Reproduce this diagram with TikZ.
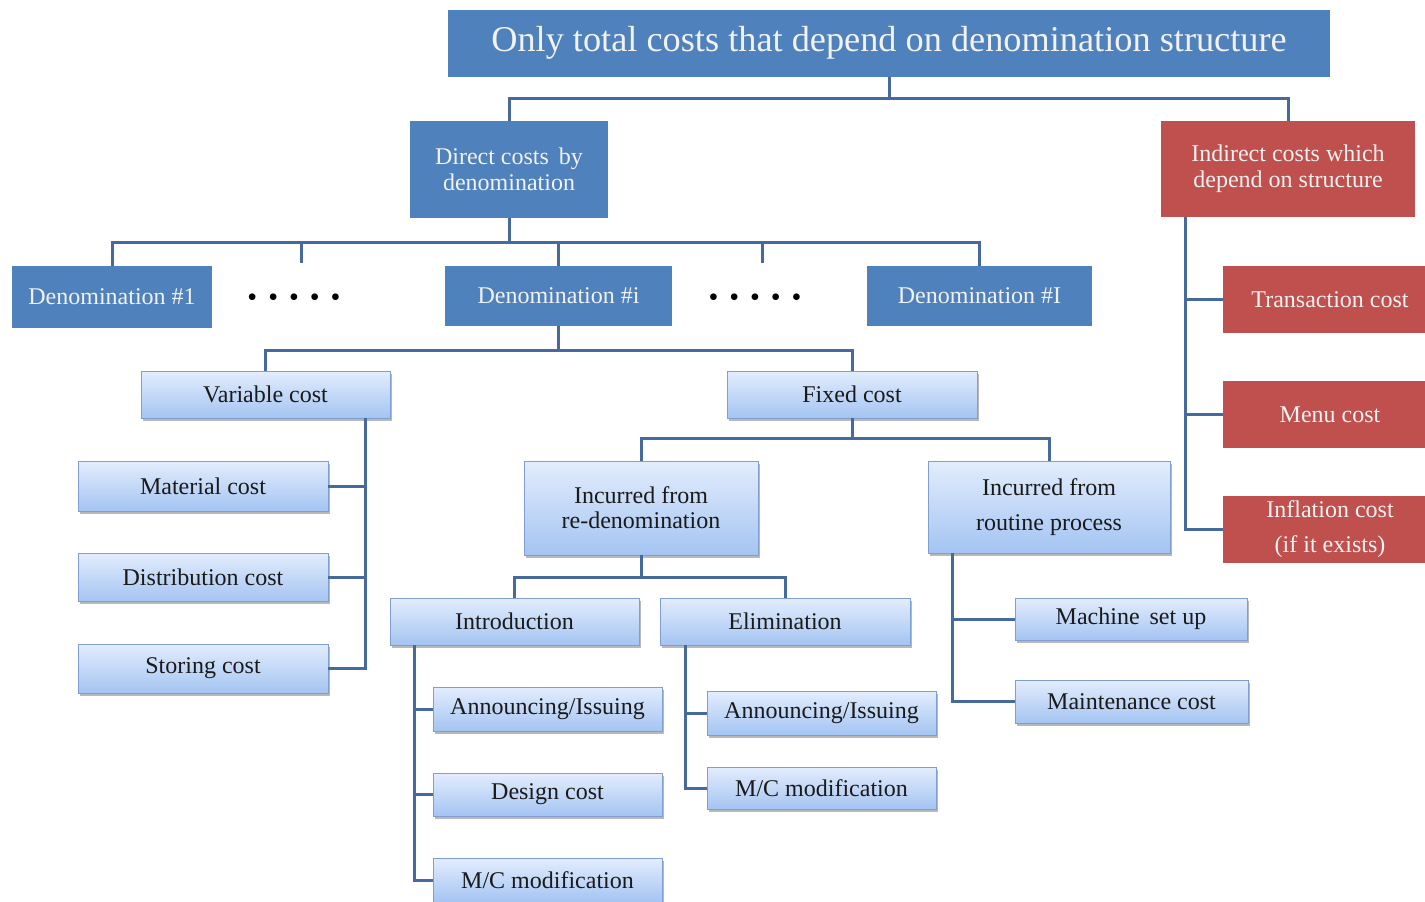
\documentclass[tikz,border=0pt]{standalone}
\usepackage{fontspec}
\setmainfont{Liberation Serif}
\usetikzlibrary{shadows}
\definecolor{bluefill}{HTML}{4F81BD}
\definecolor{redfill}{HTML}{C0504D}
\definecolor{lighttop}{HTML}{E3EDFD}
\definecolor{lightbot}{HTML}{A4C4F2}
\definecolor{lightedge}{HTML}{7F9FD0}
\definecolor{linecol}{HTML}{46699E}
\definecolor{darktext}{HTML}{1A1A1A}
\begin{document}
\begin{tikzpicture}[x=1pt,y=-1pt,
  boxbase/.style={inner sep=0pt, align=center},
  bluebox/.style={boxbase, fill=bluefill, text=white!95!black, font=\fontsize{24}{26}\selectfont},
  redbox/.style={boxbase, fill=redfill, text=white!95!black, font=\fontsize{24}{26}\selectfont},
  lightbox/.style={boxbase, draw=lightedge, line width=0.8pt, top color=lighttop, bottom color=lightbot,
     text=darktext, font=\fontsize{24}{25}\selectfont,
     drop shadow={shadow xshift=2pt, shadow yshift=-3pt, fill=black, opacity=0.28}},
  dotrow/.style={inner sep=0pt, font=\fontsize{28}{30}\selectfont},
  conn/.style={draw=linecol, line width=3pt}
]
\useasboundingbox (0,0) rectangle (1425,902);
\fill[white] (0,0) rectangle (1425,902);

% top level
\node[bluebox, minimum width=882, minimum height=67, font=\fontsize{36.3}{40}\selectfont] (title) at (889,43) {Only total costs that depend on denomination structure};
\node[bluebox, minimum width=198, minimum height=97] (direct) at (509,169.5) {Direct costs\, by\\denomination};
\node[redbox, minimum width=254, minimum height=96] (indirect) at (1288,169) {Indirect costs which\\depend on structure};

% denominations
\node[bluebox, minimum width=200, minimum height=62] (d1) at (112,297) {Denomination \#1};
\node[bluebox, minimum width=227, minimum height=60] (di) at (558.5,296) {Denomination \#i};
\node[bluebox, minimum width=225, minimum height=60] (dI) at (979.5,296) {Denomination \#I};
\node[dotrow] (dots1) at (294,300) {\spaceskip=11pt • • • • •};
\node[dotrow] (dots2) at (755,300) {\spaceskip=11pt • • • • •};

% indirect children
\node[redbox, minimum width=214, minimum height=67] (trans) at (1330,299.5) {Transaction cost};
\node[redbox, minimum width=214, minimum height=67] (menu) at (1330,414.5) {Menu cost};
\node[redbox, minimum width=214, minimum height=67, font=\fontsize{24}{35}\selectfont] (infl) at (1330,529.5) {Inflation cost\\(if it exists)};

% variable / fixed
\node[lightbox, minimum width=249, minimum height=47] (var) at (265.5,394.5) {Variable cost};
\node[lightbox, minimum width=250, minimum height=47] (fix) at (852,394.5) {Fixed cost};
\node[lightbox, minimum width=250, minimum height=50] (mat) at (203,486) {Material cost};
\node[lightbox, minimum width=250, minimum height=48] (dist) at (203,577) {Distribution cost};
\node[lightbox, minimum width=250, minimum height=49] (stor) at (203,668.5) {Storing cost};

% fixed children
\node[lightbox, minimum width=234, minimum height=94] (incre) at (641,508) {Incurred from\\re-denomination};
\node[lightbox, minimum width=242, minimum height=92, font=\fontsize{24}{35}\selectfont] (incro) at (1049,507) {Incurred from\\routine process};
\node[lightbox, minimum width=249, minimum height=47] (intro) at (514.5,621.5) {Introduction};
\node[lightbox, minimum width=250, minimum height=47] (elim) at (785,621.5) {Elimination};
\node[lightbox, minimum width=229, minimum height=44] (ann1) at (547.5,709) {Announcing/Issuing};
\node[lightbox, minimum width=229, minimum height=43] (design) at (547.5,794.5) {Design cost};
\node[lightbox, minimum width=229, minimum height=44] (mc1) at (547.5,880) {M/C modification};
\node[lightbox, minimum width=229, minimum height=44] (ann2) at (821.5,713) {Announcing/Issuing};
\node[lightbox, minimum width=229, minimum height=42] (mc2) at (821.5,788) {M/C modification};
\node[lightbox, minimum width=232, minimum height=42] (mach) at (1131,619) {Machine\, set up};
\node[lightbox, minimum width=233, minimum height=43] (maint) at (1131.5,701.5) {Maintenance cost};

% connectors
\coordinate (s1) at (301,263);
\coordinate (s2) at (762,263);
\draw[conn] (title.south) -- ++(0,22) -| (direct.north);
\draw[conn] (title.south) -- ++(0,22) -| (indirect.north);
\draw[conn] (direct.south) -- ++(0,24) -| (d1.north);
\draw[conn] (direct.south) -- ++(0,24) -| (s1);
\draw[conn] (direct.south) -- ++(0,24) -| (di.north);
\draw[conn] (direct.south) -- ++(0,24) -| (s2);
\draw[conn] (direct.south) -- ++(0,24) -| (dI.north);
\draw[conn] (di.south) -- ++(0,24) -| (var.north);
\draw[conn] (di.south) -- ++(0,24) -| (fix.north);
\draw[conn] ([xshift=99.5]var.south) |- (mat.east);
\draw[conn] ([xshift=99.5]var.south) |- (dist.east);
\draw[conn] ([xshift=99.5]var.south) |- (stor.east);
\draw[conn] (fix.south) -- ++(0,20) -| (incre.north);
\draw[conn] (fix.south) -- ++(0,20) -| (incro.north);
\draw[conn] (incre.south) -- ++(0,22) -| (intro.north);
\draw[conn] (incre.south) -- ++(0,22) -| (elim.north);
\draw[conn] ([xshift=25]intro.south west) |- (ann1.west);
\draw[conn] ([xshift=25]intro.south west) |- (design.west);
\draw[conn] ([xshift=25]intro.south west) |- (mc1.west);
\draw[conn] ([xshift=26]elim.south west) |- (ann2.west);
\draw[conn] ([xshift=26]elim.south west) |- (mc2.west);
\draw[conn] ([xshift=25]incro.south west) |- (mach.west);
\draw[conn] ([xshift=25]incro.south west) |- (maint.west);
\draw[conn] ([xshift=25]indirect.south west) |- (trans.west);
\draw[conn] ([xshift=25]indirect.south west) |- (menu.west);
\draw[conn] ([xshift=25]indirect.south west) |- (infl.west);
\end{tikzpicture}
\end{document}
